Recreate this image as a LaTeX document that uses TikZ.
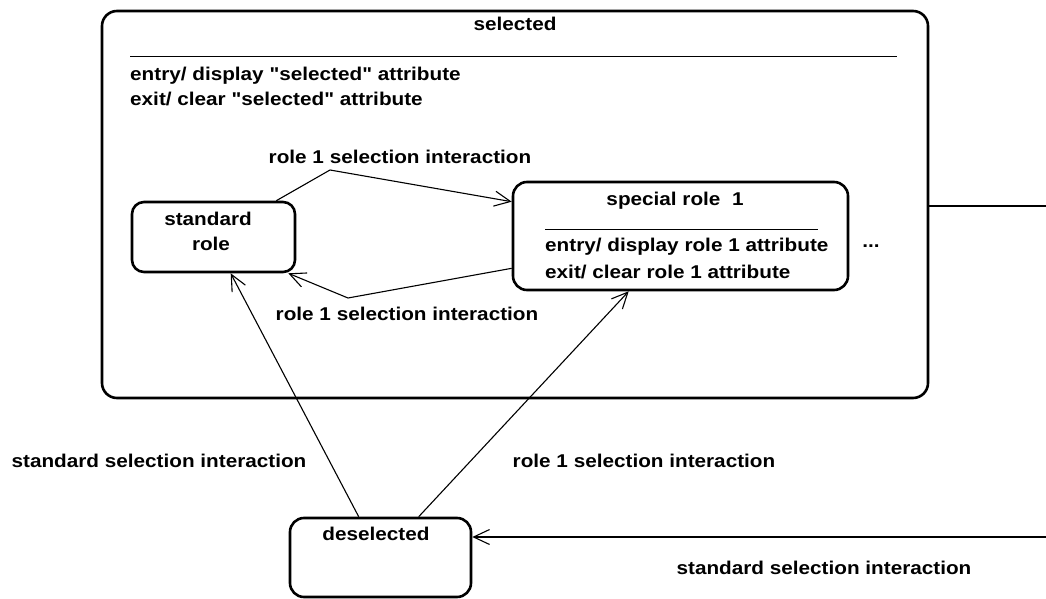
\documentclass[tikz,border=0pt]{standalone}
\usepackage{fontspec}
\newfontfamily\diagfont{Liberation Sans}[FakeStretch=1.12]
\usetikzlibrary{arrows.meta,calc}
\begin{document}
\begin{tikzpicture}[x=1pt,y=-1pt,
  font=\diagfont\fontsize{18.5}{22}\selectfont\bfseries,
  statebox/.style={draw, line width=2.6pt, inner sep=0pt},
  lbl/.style={anchor=base, inner sep=0pt},
  lblw/.style={anchor=base west, inner sep=0pt},
  sepline/.style={line width=1pt},
  conn/.style={line width=1.1pt, -{Straight Barb[length=16pt,width=15pt]}},
  plain/.style={line width=1.1pt}]
\useasboundingbox (0,0) rectangle (1046,599);
% states
\node[statebox, rounded corners=15pt, minimum width=826pt, minimum height=387pt] (sel) at (515,204.5) {};
\node[statebox, rounded corners=12pt, minimum width=163pt, minimum height=70pt] (std) at (213.5,237) {};
\node[statebox, rounded corners=14pt, minimum width=335pt, minimum height=108pt] (sp) at (680.5,236) {};
\node[statebox, rounded corners=14pt, minimum width=181pt, minimum height=79pt] (des) at (380.5,557.5) {};
% texts of selected
\node[lbl] (selT) at (515,31) {selected};
\coordinate (selL1) at (130,57);
\coordinate (selL2) at (897,57);
\draw[sepline] (selL1) -- (selL2);
\node[lblw] (selEn) at (130,81) {entry/ display "selected" attribute};
\node[lblw] (selEx) at (130,106) {exit/ clear "selected" attribute};
% standard role
\node[lbl] (stdT1) at (208,225) {standard};
\node[lbl] (stdT2) at (211,250) {role};
% special role
\node[lbl] (spT) at (675,205) {special role~~1};
\coordinate (spL1) at (545,229);
\coordinate (spL2) at (818,229);
\draw[sepline] (spL1) -- (spL2);
\node[lblw] (spEn) at (545,251) {entry/ display role 1 attribute};
\node[lblw] (spEx) at (545,278) {exit/ clear role 1 attribute};
\node[lbl] (dots) at (871,247) {...};
% deselected
\node[lbl] (desT) at (376,540) {deselected};
% connectors
\coordinate (b1) at (330,170);
\coordinate (b2) at (348,298);
\draw[conn] ($(std.north east)+(-20,0)$) -- (b1) -- ($(sp.north west)+(0,21)$);
\draw[conn] ($(sp.south west)+(0,-23)$) -- (b2) -- ($(std.south east)+(-8,0)$);
\draw[conn] ($(des.north west)+(70,0)$) -- ($(std.south west)+(100,0)$);
\draw[conn] ($(des.north west)+(130,0)$) -- ($(sp.south west)+(117,0)$);
\coordinate (r1) at (1046,206);
\coordinate (r2) at (1046,537);
\draw[plain] (sel.east |- r1) -- (r1);
\draw[conn] (r2) -- (des.east |- r2);
% labels
\node[lbl] (l1) at (400,163) {role 1 selection interaction};
\node[lbl] (l2) at (407,320) {role 1 selection interaction};
\node[lbl] (l3) at (159,467) {standard selection interaction};
\node[lbl] (l4) at (644,467) {role 1 selection interaction};
\node[lbl] (l5) at (824,574) {standard selection interaction};
\end{tikzpicture}
\end{document}
